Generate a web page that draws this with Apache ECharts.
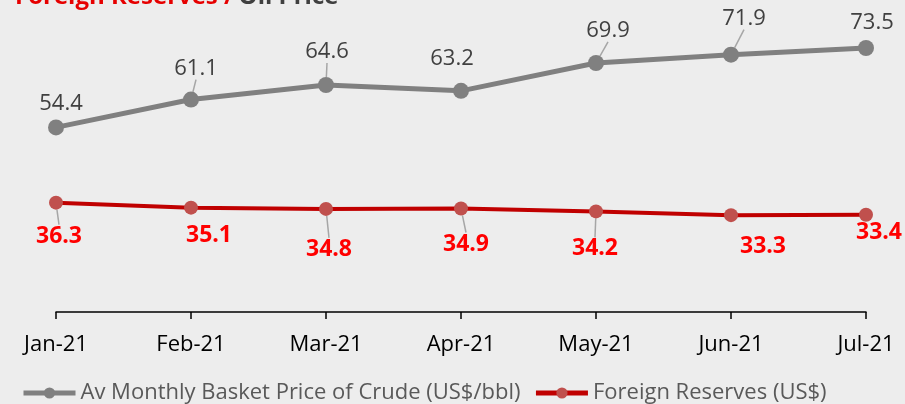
<!DOCTYPE html>
<html>
<head>
<meta charset="utf-8">
<script src="https://cdn.jsdelivr.net/npm/echarts@6/dist/echarts.min.js"></script>
<style>
  html, body { margin: 0; padding: 0; background: #ededed; }
  #chart { width: 905px; height: 404px; }
</style>
</head>
<body>
<div id="chart"></div>
<script>
const months = ['Jan-21', 'Feb-21', 'Mar-21', 'Apr-21', 'May-21', 'Jun-21', 'Jul-21']
const crudePrice = [54.4, 61.1, 64.6, 63.2, 69.9, 71.9, 73.5]
const fxReserves = [36.3, 35.1, 34.8, 34.9, 34.2, 33.3, 33.4]

// label nudges and which labels get a leader line (Excel placed these by hand)
const crudeNudge = [[5, 0], [5, -7], [1, -9], [-9, -8], [12, -8], [13, -12], [6, -1]]
const crudeLeader = [false, true, true, false, true, true, false]
const fxNudge = [[3, 10], [18, 4], [3, 17], [5, 12], [-1, 14], [32, 8], [13, -6]]
const fxLeader = [true, false, true, true, true, false, false]

const font = 'Open Sans'
const leaderStyle = { color: '#a6a6a6', width: 1.5 }
const chart = echarts.init(document.getElementById('chart'))

chart.setOption({
  backgroundColor: '#ededed',
  animation: false,
  textStyle: { fontFamily: font },
  title: {
    left: 10,
    top: -20,
    text: '{r|Foreign Reserves /} {g|Oil Price}',
    textStyle: {
      rich: {
        r: { color: '#e60000', fontSize: 24, fontWeight: 'bold', fontFamily: font },
        g: { color: '#404040', fontSize: 24, fontWeight: 'bold', fontFamily: font }
      }
    }
  },
  legend: {
    left: 16,
    top: 377,
    itemWidth: 52,
    itemHeight: 14,
    itemGap: 13,
    lineStyle: { width: 5 },
    textStyle: { color: '#595959', fontSize: 22, fontFamily: font },
    data: ['Av Monthly Basket Price of Crude (US$/bbl)', 'Foreign Reserves (US$)']
  },
  grid: { left: 56, right: 39, top: 21, bottom: 92 },
  xAxis: {
    type: 'category',
    boundaryGap: false,
    data: months,
    axisLine: { lineStyle: { color: '#000', width: 1.5 } },
    axisTick: { length: 7, lineStyle: { color: '#000', width: 1.5 } },
    axisLabel: { color: '#000', fontSize: 22, margin: 22, fontFamily: font }
  },
  yAxis: {
    type: 'value',
    min: 10,
    max: 80,
    show: false,
    splitLine: { show: false }
  },
  series: [
    {
      name: 'Av Monthly Basket Price of Crude (US$/bbl)',
      type: 'line',
      data: crudePrice.map((v, i) => ({ value: v, labelLine: { show: crudeLeader[i], lineStyle: leaderStyle } })),
      symbol: 'circle',
      symbolSize: 16,
      lineStyle: { color: '#808080', width: 5 },
      itemStyle: { color: '#808080' },
      label: {
        show: true,
        position: 'top',
        distance: 5,
        color: '#404040',
        fontSize: 22,
        fontFamily: font
      },
      labelLine: { show: true, lineStyle: leaderStyle },
      labelLayout: p => ({ dx: crudeNudge[p.dataIndex][0], dy: crudeNudge[p.dataIndex][1] })
    },
    {
      name: 'Foreign Reserves (US$)',
      type: 'line',
      data: fxReserves.map((v, i) => ({ value: v, labelLine: { show: fxLeader[i], lineStyle: leaderStyle } })),
      symbol: 'circle',
      symbolSize: 14,
      lineStyle: { color: '#c00000', width: 4 },
      itemStyle: { color: '#c0504d' },
      label: {
        show: true,
        position: 'bottom',
        distance: 5,
        color: '#ff0000',
        fontWeight: 'bold',
        fontSize: 23,
        fontFamily: font
      },
      labelLine: { show: true, lineStyle: leaderStyle },
      labelLayout: p => ({ dx: fxNudge[p.dataIndex][0], dy: fxNudge[p.dataIndex][1] })
    }
  ]
})
</script>
</body>
</html>
